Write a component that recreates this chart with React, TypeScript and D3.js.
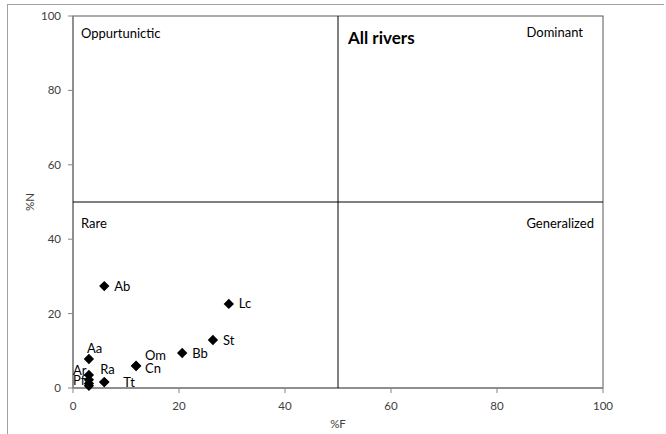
import React from "react";
import * as d3 from "d3";

const species = ["Ab", "Lc", "St", "Bb", "Om", "Cn", "Aa", "Ar", "Pf", "", "", "Ra", "Tt"];
const pctF = [5.9, 29.4, 26.4, 20.6, 11.9, 11.9, 3.0, 3.0, 3.0, 3.0, 3.0, 5.9, 5.9];
const pctN = [27.4, 22.6, 12.9, 9.4, 6.0, 5.9, 7.8, 3.5, 2.2, 1.2, 0.6, 1.6, 1.6];
const xTicks = [0, 20, 40, 60, 80, 100];
const yTicks = [0, 20, 40, 60, 80, 100];
const quadrantLabels = ["Oppurtunictic", "Dominant", "Rare", "Generalized"];
const title = "All rivers";

// label offsets (px) relative to each point
const labelDx = [10, 10, 10, 10, 9, 9, -2, -16, -16, 0, 0, -4, 19];
const labelDy = [0, 0, 0, 0, -10, 2, -11, -5, 1, 0, 0, -13, 0];

const W = 666;
const H = 434;
const L = 73, R = 603, T = 16, B = 388;
const FONT = "Lato, 'Open Sans', sans-serif";

export default function App() {
  const x = d3.scaleLinear().domain([0, 100]).range([L, R]);
  const y = d3.scaleLinear().domain([0, 100]).range([B, T]);
  const diamond = d3.symbol().type((d3 as any).symbolDiamond2 || d3.symbolDiamond).size(68)();
  const axisColor = "#868686";
  const textColor = "#404040";
  return (
    <svg width={W} height={H} style={{ position: "absolute", left: 0, top: 0, background: "#fff" }} fontFamily={FONT}>
      <rect x={0} y={0} width={W} height={H} fill="#fff" />
      {/* outer border */}
      <line x1={7} y1={4.5} x2={664} y2={4.5} stroke="#a0a0a0" strokeWidth={1} />
      <line x1={7.5} y1={4} x2={7.5} y2={H} stroke="#a0a0a0" strokeWidth={1} />
      {/* plot frame */}
      <rect x={L} y={T} width={R - L} height={B - T} fill="none" stroke="#595959" strokeWidth={1} />
      {/* axes */}
      <line x1={L} y1={T} x2={L} y2={B} stroke={axisColor} strokeWidth={1.5} />
      <line x1={L} y1={B} x2={R} y2={B} stroke={axisColor} strokeWidth={1.5} />
      {/* quadrant lines */}
      <line x1={x(50)} y1={T} x2={x(50)} y2={B} stroke="#000" strokeWidth={1} />
      <line x1={L} y1={y(50)} x2={R} y2={y(50)} stroke="#000" strokeWidth={1} />
      {/* ticks */}
      {yTicks.map((t) => (
        <g key={"y" + t}>
          <line x1={L - 5} x2={L} y1={y(t)} y2={y(t)} stroke={axisColor} />
          <text x={L - 12} y={y(t)} dy="0.35em" textAnchor="end" fontSize={11.5} fill={textColor}>{t}</text>
        </g>
      ))}
      {xTicks.map((t) => (
        <g key={"x" + t}>
          <line x1={x(t)} x2={x(t)} y1={B} y2={B + 5} stroke={axisColor} />
          <text x={x(t)} y={B + 18} dy="0.35em" textAnchor="middle" fontSize={11.5} fill={textColor}>{t}</text>
        </g>
      ))}
      {/* axis titles */}
      <text x={338} y={424} dy="0.35em" textAnchor="middle" fontSize={11.5} fill={textColor}>%F</text>
      <text transform="translate(30,202) rotate(-90)" dy="0.35em" textAnchor="middle" fontSize={11.5} fill={textColor}>%N</text>
      {/* quadrant labels */}
      <text x={81} y={33} dy="0.35em" fontSize={13} fill="#000">{quadrantLabels[0]}</text>
      <text x={583} y={32} dy="0.35em" textAnchor="end" fontSize={13} fill="#000">{quadrantLabels[1]}</text>
      <text x={81} y={223} dy="0.35em" fontSize={13} fill="#000">{quadrantLabels[2]}</text>
      <text x={594} y={223} dy="0.35em" textAnchor="end" fontSize={13} fill="#000">{quadrantLabels[3]}</text>
      <text x={348} y={38} dy="0.35em" fontSize={17} fontWeight="bold" fill="#000">{title}</text>
      {/* labels under points */}
      {species.map((s, i) =>
        s ? (
          <text key={"l" + i} x={x(pctF[i]) + labelDx[i]} y={y(pctN[i]) + labelDy[i]} dy="0.35em" fontSize={13} fill="#000">{s}</text>
        ) : null
      )}
      {/* points */}
      {species.map((s, i) => (
        <path key={"p" + i} d={diamond!} transform={`translate(${x(pctF[i])},${y(pctN[i])})`} fill="#000" />
      ))}
    </svg>
  );
}
